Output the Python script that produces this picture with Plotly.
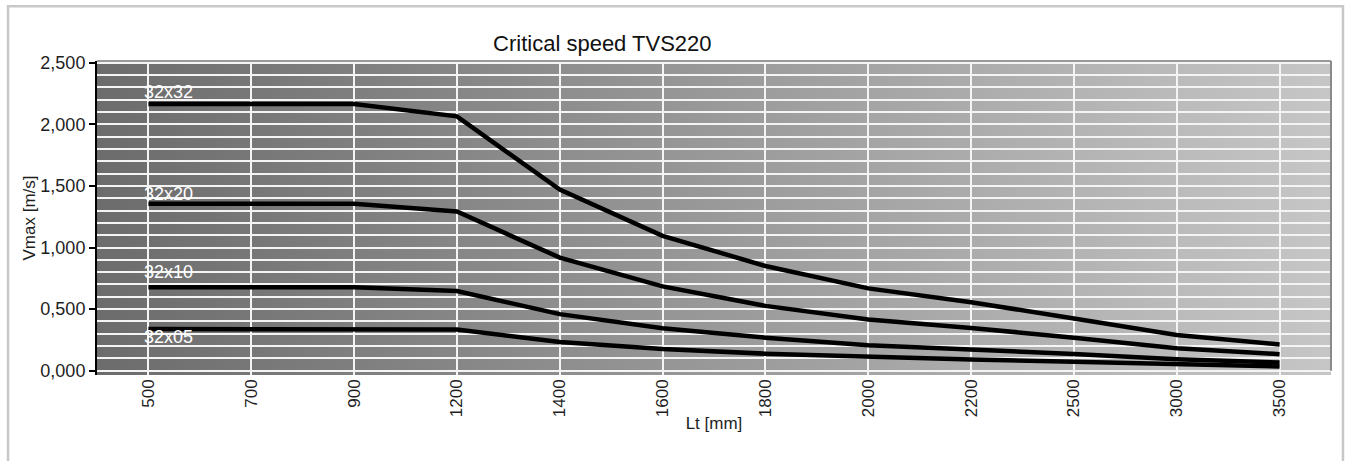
import base64
import plotly.graph_objects as go

# ----------------------------- data -----------------------------
lengths = ["500", "700", "900", "1200", "1400", "1600", "1800", "2000",
           "2200", "2500", "3000", "3500"]          # Lt [mm], categorical axis

series_names = ["32x32", "32x20", "32x10", "32x05"]
v_32x32 = [2.165, 2.165, 2.165, 2.065, 1.470, 1.095, 0.850, 0.668, 0.556, 0.424, 0.289, 0.213]
v_32x20 = [1.355, 1.355, 1.355, 1.292, 0.918, 0.684, 0.526, 0.416, 0.347, 0.268, 0.183, 0.134]
v_32x10 = [0.678, 0.678, 0.678, 0.646, 0.459, 0.345, 0.268, 0.206, 0.174, 0.136, 0.093, 0.066]
v_32x05 = [0.338, 0.338, 0.338, 0.334, 0.233, 0.176, 0.138, 0.110, 0.090, 0.072, 0.050, 0.035]
series_values = [v_32x32, v_32x20, v_32x10, v_32x05]

y_ticks = [0.0, 0.5, 1.0, 1.5, 2.0, 2.5]

# ----------------------------- style -----------------------------
FONT = "Liberation Sans, Arial, sans-serif"
TXT = "#1e1e1e"
GRID = "#f4f4f4"
Y_RANGE = [-0.035, 2.514]
label_shift = [12, 10, 15, -8]      # px offset of the white series labels

# horizontal grey gradient used as plot background (plotly has no gradient bg)
svg = ("<svg xmlns='http://www.w3.org/2000/svg' width='200' height='20' "
       "preserveAspectRatio='none'><defs><linearGradient id='g' x1='0' y1='0' x2='1' y2='0'>"
       "<stop offset='0' stop-color='#6c6c6c'/><stop offset='1' stop-color='#c6c6c6'/>"
       "</linearGradient></defs><rect width='200' height='20' fill='url(#g)'/></svg>")
bg_src = "data:image/svg+xml;base64," + base64.b64encode(svg.encode()).decode()

fig = go.Figure()
for name, vals in zip(series_names, series_values):
    fig.add_trace(go.Scatter(
        x=lengths, y=vals, mode="lines", name=name,
        line=dict(color="black", width=4.5),
        hovertemplate=name + "<br>Lt %{x} mm<br>Vmax %{y:.3f} m/s<extra></extra>",
    ))

annotations = []
for name, vals, dy in zip(series_names, series_values, label_shift):
    # x=0 -> index of the first category ("500") on the category axis
    annotations.append(dict(
        x=0, y=vals[0], xref="x", yref="y", text=name, showarrow=False,
        xanchor="left", yanchor="middle", xshift=-6, yshift=dy,
        font=dict(family=FONT, size=18, color="white"),
    ))

shapes = []
# half-category vertical gridlines (category axis draws the ones at labels)
for i in range(len(lengths) - 1):
    shapes.append(dict(type="line", xref="x", yref="paper", x0=i + 0.5, x1=i + 0.5,
                       y0=0, y1=1, layer="between", line=dict(color=GRID, width=1.5)))
# darker top / right edge of the plot area
shapes.append(dict(type="line", xref="paper", yref="paper", x0=0, x1=1, y0=1, y1=1,
                   line=dict(color="#999999", width=2)))
shapes.append(dict(type="line", xref="paper", yref="y", x0=1, x1=1, y0=0, y1=Y_RANGE[1],
                   line=dict(color="#8a8a8a", width=2)))
# light outer frame of the picture
shapes.append(dict(type="rect", xref="paper", yref="paper", x0=-0.0721, x1=1.0097,
                   y0=-0.6, y1=1.1746, line=dict(color="#c8c8c8", width=2.5),
                   fillcolor="rgba(0,0,0,0)"))

fig.update_layout(
    width=1346, height=461,
    margin=dict(l=97, r=15, t=61, b=86),
    paper_bgcolor="white", plot_bgcolor="rgba(0,0,0,0)",
    separators=",.",
    showlegend=False,
    font=dict(family=FONT, size=17, color=TXT),
    title=dict(text="Critical speed TVS220", x=0.4475, xanchor="center",
               y=0.905, yanchor="middle", font=dict(family=FONT, size=22, color="#111111")),
    images=[dict(source=bg_src, xref="x domain", yref="y domain", x=0, y=1,
                 sizex=1, sizey=1, xanchor="left", yanchor="top",
                 sizing="stretch", layer="below")],
    shapes=shapes,
    annotations=annotations,
)

fig.update_xaxes(
    type="category", categoryorder="array", categoryarray=lengths,
    range=[-0.5, len(lengths) - 0.5],
    showgrid=True, gridcolor=GRID, gridwidth=1.5,
    showline=False, zeroline=False, ticks="", tickangle=-90,
    tickfont=dict(family=FONT, size=17, color=TXT),
    title=dict(text="Lt [mm]", standoff=0, font=dict(family=FONT, size=17)),
    automargin=False,
)
fig.update_yaxes(
    range=Y_RANGE, tickvals=y_ticks, tickformat=".3f",
    showgrid=True, gridcolor=GRID, gridwidth=1.5,
    minor=dict(dtick=0.1, showgrid=True, gridcolor=GRID, gridwidth=1.5, ticks=""),
    zeroline=False, showline=True, linecolor="black", linewidth=2,
    ticks="outside", ticklen=6, tickwidth=1.5, tickcolor="black",
    tickfont=dict(family=FONT, size=18, color=TXT),
    title=dict(text="Vmax [m/s]", standoff=0, font=dict(family=FONT, size=17)),
    automargin=False,
)

# drop the default 8px body margin so the 1346x461 figure fills the window exactly
fig.write_html("out.html", config={"displayModeBar": False},
               post_script="document.body.style.margin='0';document.body.style.overflow='hidden';")
